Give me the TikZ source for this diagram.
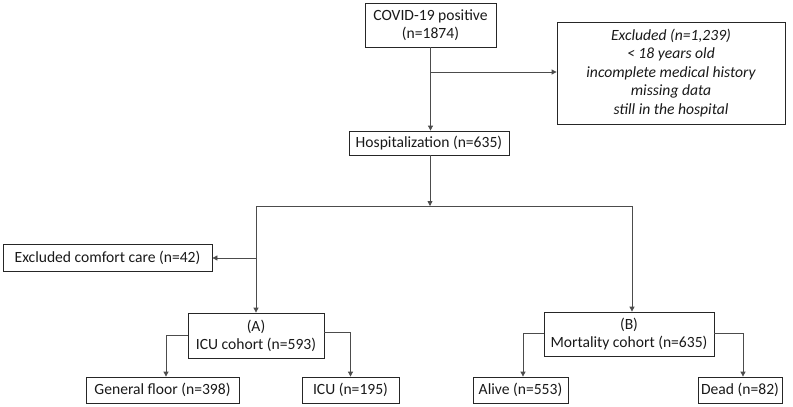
\documentclass[tikz,border=0pt]{standalone}
\usepackage{fontspec}
\setmainfont{Carlito}
\usetikzlibrary{arrows.meta}
\begin{document}
\begin{tikzpicture}[x=1pt,y=-1pt,
  box/.style={draw=black!85, line width=0.8pt, inner sep=0pt, align=center,
    font=\fontsize{15.6}{18}\selectfont, text=black!90},
  arr/.style={draw=black!70, line width=0.8pt, -{Triangle[length=5pt,width=5pt]}},
  ln/.style={draw=black!70, line width=0.8pt}]
\useasboundingbox (0,0) rectangle (793,407);
\node[box, minimum width=131pt, minimum height=44pt] (covid) at (430.5,25) {COVID-19 positive\\(n=1874)};
\node[box, minimum width=228pt, minimum height=102pt, font=\fontsize{15.6}{18.5}\selectfont\itshape] (excl) at (671,73)
  {Excluded (n=1,239)\\< 18 years old\\incomplete medical history\\missing data\\still in the hospital};
\node[box, minimum width=160pt, minimum height=24pt] (hosp) at (429,143) {Hospitalization (n=635)};
\node[box, minimum width=209pt, minimum height=27pt] (comfort) at (107.5,257.5) {Excluded comfort care (n=42)};
\node[box, minimum width=136pt, minimum height=45pt] (A) at (256,335.5) {(A)\\ICU cohort (n=593)};
\node[box, minimum width=170pt, minimum height=44pt] (B) at (629,334) {(B)\\Mortality cohort (n=635)};
\node[box, minimum width=153pt, minimum height=26pt] (gen) at (162.5,390) {General floor (n=398)};
\node[box, minimum width=97pt, minimum height=26pt] (icu) at (350.5,390) {ICU (n=195)};
\node[box, minimum width=95pt, minimum height=26pt] (alive) at (520.5,390) {Alive (n=553)};
\node[box, minimum width=84pt, minimum height=26pt] (dead) at (740,390) {Dead (n=82)};
\coordinate (j1) at (430,72);
\coordinate (j2) at (430,206);
\coordinate (jl) at (256,206);
\coordinate (jr) at (632,206);
\coordinate (jc) at (256,258);
\draw[arr] (covid.south) -- (covid.south |- hosp.north);
\draw[arr] (j1) -- (j1 -| excl.west);
\draw[arr] (hosp.south -| j2) -- (j2);
\draw[ln] (jl) -- (jr);
\draw[arr] (jl) -- (A.north);
\draw[arr] (jr) -- (jr |- B.north);
\draw[arr] (jc) -- (comfort.east |- jc);
\draw[arr] (A.west) -| ([xshift=3.5pt]gen.north);
\draw[arr] ([yshift=3.5pt]A.east) -| (icu.north);
\draw[arr] ([yshift=1pt]B.west) -| ([xshift=2.5pt]alive.north);
\draw[arr] ([yshift=1pt]B.east) -| ([xshift=3pt]dead.north);
\end{tikzpicture}
\end{document}
